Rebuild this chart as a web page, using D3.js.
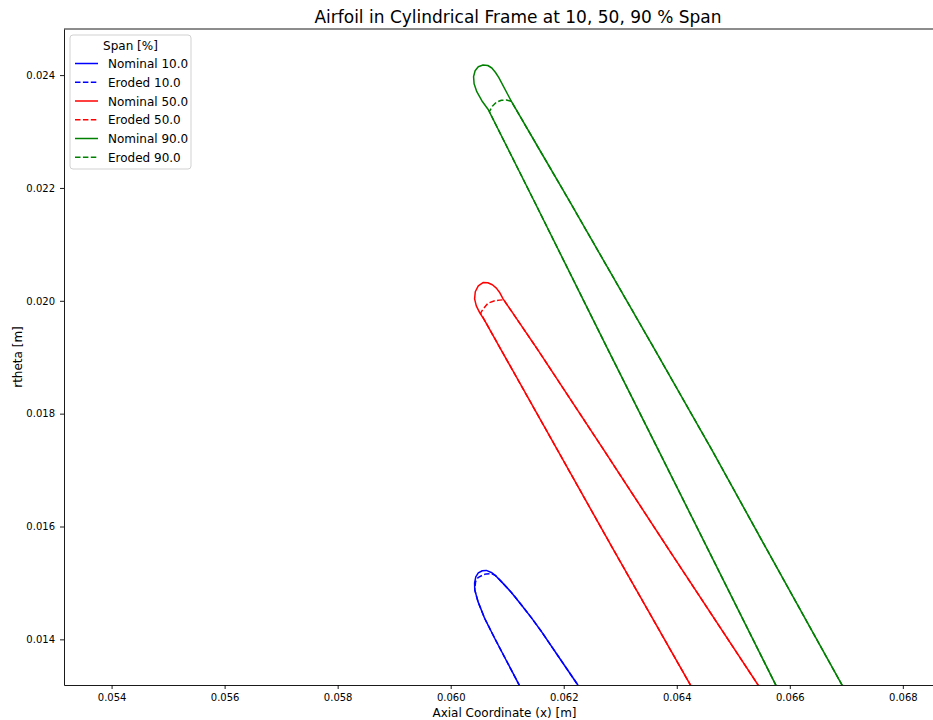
<!DOCTYPE html>
<html>
<head>
<meta charset="utf-8">
<script src="https://cdn.jsdelivr.net/npm/d3@7"></script>
<style>
  body { margin: 0; background: #fff; }
  text { font-family: "DejaVu Sans", sans-serif; }
</style>
</head>
<body>
<div id="viz"></div>
<script>
// blade sections, [x, rtheta] in metres
var nominal10 = [[0.061359,0.012926],[0.061211,0.013192],[0.060778,0.014020],[0.060600,0.014374],[0.060483,0.014669],[0.060426,0.014876],[0.060423,0.015000],[0.060444,0.015107],[0.060488,0.015177],[0.060559,0.015216],[0.060630,0.015222],[0.060719,0.015186],[0.060808,0.015115],[0.060897,0.015023],[0.061074,0.014832],[0.061252,0.014610],[0.061430,0.014380],[0.061607,0.014137],[0.061918,0.013679],[0.062238,0.013209],[0.062424,0.012926]];
var eroded10 = [[0.061359,0.012926],[0.061211,0.013192],[0.060778,0.014020],[0.060600,0.014374],[0.060483,0.014669],[0.060426,0.014876],[0.060440,0.015023],[0.060483,0.015094],[0.060572,0.015142],[0.060630,0.015160],[0.060719,0.015167],[0.060790,0.015133],[0.060897,0.015023],[0.061074,0.014832],[0.061252,0.014610],[0.061430,0.014380],[0.061607,0.014137],[0.061918,0.013679],[0.062238,0.013209],[0.062424,0.012926]];
var nominal50 = [[0.064390,0.012926],[0.064241,0.013192],[0.062882,0.015585],[0.061888,0.017358],[0.060892,0.019131],[0.060595,0.019663],[0.060515,0.019787],[0.060453,0.019911],[0.060423,0.020035],[0.060435,0.020160],[0.060488,0.020266],[0.060572,0.020324],[0.060657,0.020319],[0.060737,0.020284],[0.060808,0.020225],[0.060870,0.020142],[0.060927,0.020035],[0.061542,0.019131],[0.062708,0.017358],[0.063863,0.015585],[0.065438,0.013192],[0.065612,0.012926]];
var eroded50 = [[0.064390,0.012926],[0.064241,0.013192],[0.062882,0.015585],[0.061888,0.017358],[0.060892,0.019131],[0.060595,0.019663],[0.060529,0.019782],[0.060577,0.019858],[0.060661,0.019959],[0.060778,0.020000],[0.060861,0.020012],[0.060938,0.020018],[0.061542,0.019131],[0.062708,0.017358],[0.063863,0.015585],[0.065438,0.013192],[0.065612,0.012926]];
var nominal90 = [[0.065884,0.012926],[0.065751,0.013192],[0.063673,0.017358],[0.062785,0.019131],[0.061465,0.021791],[0.060666,0.023386],[0.060551,0.023546],[0.060462,0.023706],[0.060414,0.023847],[0.060405,0.023972],[0.060432,0.024078],[0.060488,0.024149],[0.060572,0.024179],[0.060657,0.024170],[0.060728,0.024126],[0.060790,0.024051],[0.060852,0.023954],[0.061074,0.023534],[0.061572,0.022677],[0.062087,0.021791],[0.063614,0.019131],[0.064621,0.017358],[0.065598,0.015585],[0.066923,0.013192],[0.067077,0.012926]];
var eroded90 = [[0.065884,0.012926],[0.065751,0.013192],[0.063673,0.017358],[0.062785,0.019131],[0.061465,0.021791],[0.060684,0.023351],[0.060737,0.023449],[0.060808,0.023519],[0.060897,0.023555],[0.060986,0.023558],[0.061074,0.023534],[0.061572,0.022677],[0.062087,0.021791],[0.063614,0.019131],[0.064621,0.017358],[0.065598,0.015585],[0.066923,0.013192],[0.067077,0.012926]];

var spans = ["10.0", "50.0", "90.0"];
var spanColors = ["#0000ff", "#ff0000", "#008000"];
var xTicks = [0.054, 0.056, 0.058, 0.060, 0.062, 0.064, 0.066, 0.068];
var yTicks = [0.014, 0.016, 0.018, 0.020, 0.022, 0.024];

var width = 933, height = 720;
var margin = {top: 29, right: -12, bottom: 35, left: 64};
var plotW = width - margin.left - margin.right,
    plotH = height - margin.top - margin.bottom;

var x = d3.scaleLinear().domain([0.053158, 0.068746]).range([0, plotW]);
var y = d3.scaleLinear().domain([0.013191, 0.024817]).range([plotH, 0]);

var svg = d3.select("#viz").append("svg")
  .attr("width", width)
  .attr("height", height);

svg.append("defs").append("clipPath").attr("id", "plotclip")
  .append("rect").attr("width", plotW).attr("height", plotH);

var g = svg.append("g").attr("transform", "translate(" + margin.left + "," + margin.top + ")");

var series = [
  {name: "Nominal " + spans[0], pts: nominal10, color: spanColors[0], dash: null},
  {name: "Eroded " + spans[0], pts: eroded10, color: spanColors[0], dash: "5.5,2.4"},
  {name: "Nominal " + spans[1], pts: nominal50, color: spanColors[1], dash: null},
  {name: "Eroded " + spans[1], pts: eroded50, color: spanColors[1], dash: "5.5,2.4"},
  {name: "Nominal " + spans[2], pts: nominal90, color: spanColors[2], dash: null},
  {name: "Eroded " + spans[2], pts: eroded90, color: spanColors[2], dash: "5.5,2.4"}
];

var line = d3.line()
  .x(function(d) { return x(d[0]); })
  .y(function(d) { return y(d[1]); });

g.append("g").attr("clip-path", "url(#plotclip)")
  .selectAll("path")
  .data(series)
  .enter()
  .append("path")
    .attr("d", function(d) { return line(d.pts); })
    .attr("fill", "none")
    .attr("stroke", function(d) { return d.color; })
    .attr("stroke-width", 1.5)
    .attr("stroke-linejoin", "round")
    .attr("stroke-dasharray", function(d) { return d.dash; });

// axes
var xAxis = g.append("g")
  .attr("transform", "translate(0," + plotH + ")")
  .call(d3.axisBottom(x).tickValues(xTicks).tickFormat(d3.format(".3f")).tickSize(4).tickSizeOuter(0).tickPadding(5));
var yAxis = g.append("g")
  .call(d3.axisLeft(y).tickValues(yTicks).tickFormat(d3.format(".3f")).tickSize(4).tickSizeOuter(0).tickPadding(5));

[xAxis, yAxis].forEach(function(a) {
  a.selectAll("text").attr("font-size", 10).attr("fill", "#000").style("font-family", "DejaVu Sans, sans-serif");
  a.selectAll("line").attr("stroke", "#000").attr("stroke-width", 0.9);
  a.select(".domain").attr("stroke", "#000").attr("stroke-width", 0.9);
});

// top and right spines
g.append("line").attr("x1", 0).attr("x2", plotW).attr("y1", 0).attr("y2", 0)
  .attr("stroke", "#000").attr("stroke-width", 0.9);
g.append("line").attr("x1", plotW).attr("x2", plotW).attr("y1", 0).attr("y2", plotH)
  .attr("stroke", "#000").attr("stroke-width", 0.9);

svg.append("text")
  .attr("x", 518).attr("y", 23)
  .attr("text-anchor", "middle")
  .attr("font-size", 17)
  .text("Airfoil in Cylindrical Frame at 10, 50, 90 % Span");

svg.append("text")
  .attr("x", margin.left + plotW / 2).attr("y", 717)
  .attr("text-anchor", "middle")
  .attr("font-size", 12)
  .text("Axial Coordinate (x) [m]");

svg.append("text")
  .attr("transform", "translate(22," + (margin.top + plotH / 2) + ") rotate(-90)")
  .attr("text-anchor", "middle")
  .attr("font-size", 12)
  .text("rtheta [m]");

// legend
var legend = svg.append("g").attr("transform", "translate(70,35)");
legend.append("rect")
  .attr("width", 121).attr("height", 134)
  .attr("rx", 3)
  .attr("fill", "#fff").attr("fill-opacity", 0.8)
  .attr("stroke", "#cccccc").attr("stroke-width", 0.9);
legend.append("text")
  .attr("x", 60.5).attr("y", 15)
  .attr("text-anchor", "middle")
  .attr("font-size", 12)
  .text("Span [%]");

var item = legend.selectAll(".item")
  .data(series)
  .enter()
  .append("g")
    .attr("class", "item")
    .attr("transform", function(d, i) { return "translate(0," + (28.5 + i * 18.75) + ")"; });
item.append("line")
  .attr("x1", 5).attr("x2", 28)
  .attr("stroke", function(d) { return d.color; })
  .attr("stroke-width", 1.5)
  .attr("stroke-dasharray", function(d) { return d.dash; });
item.append("text")
  .attr("x", 38).attr("y", 4.5)
  .attr("font-size", 12)
  .text(function(d) { return d.name; });
</script>
</body>
</html>
